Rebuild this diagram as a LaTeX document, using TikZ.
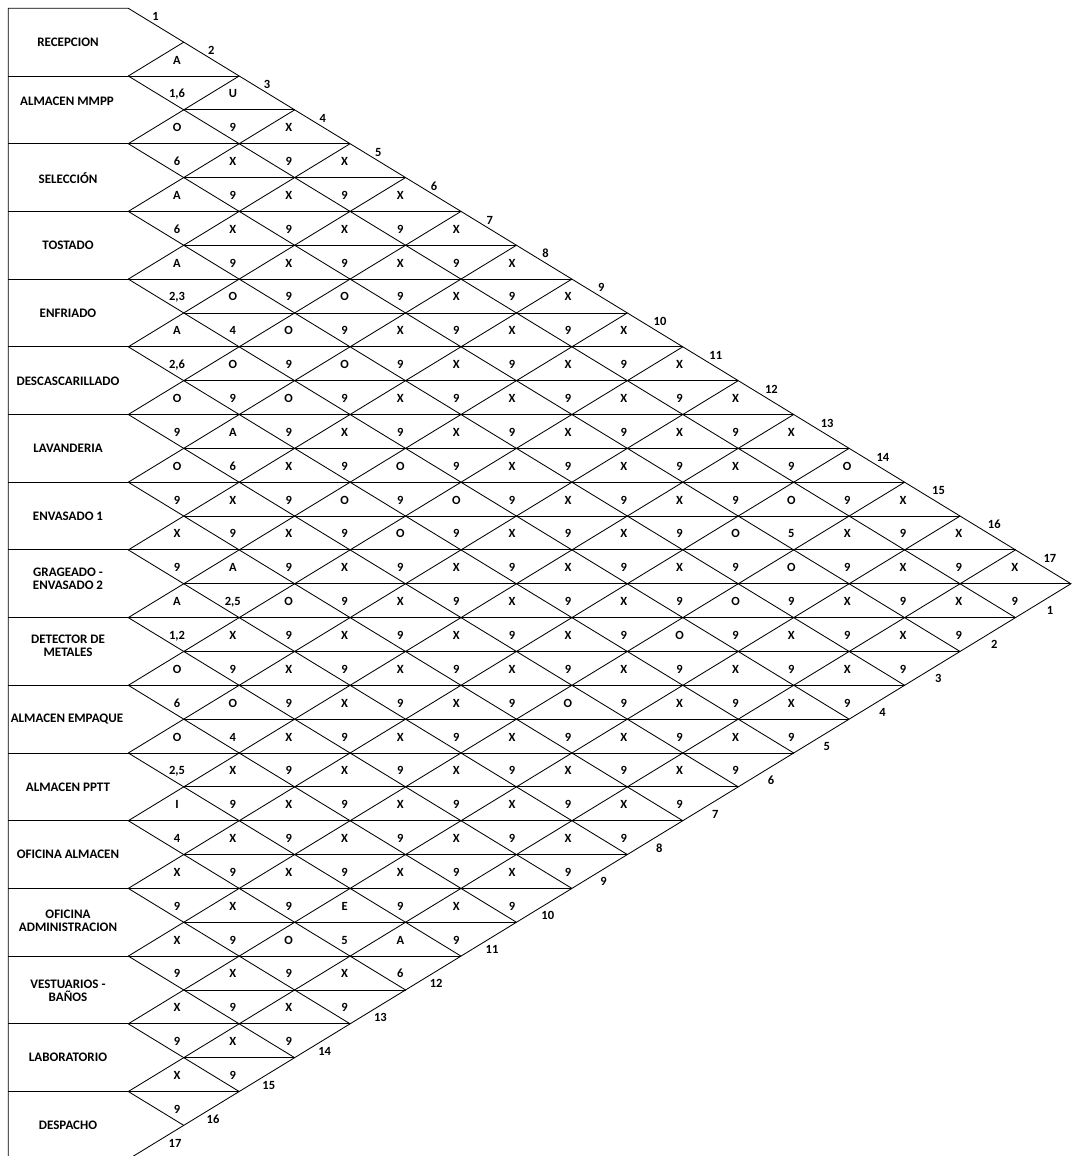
\documentclass[tikz,border=0pt]{standalone}
\usepackage{fontspec}
\setmainfont{Carlito}
\newcommand\cellrow[2]{\foreach \t [count=\m] in {#2}{\node[cell] (c#1-\m) at ({177+55.85*(\m-1)},{26.15+33.85*#1}) {\t};}}
\begin{document}
\begin{tikzpicture}[x=1pt,y=-1pt,line width=0.85pt,
  txt/.style={font=\fontsize{12.5}{12.5}\selectfont\bfseries,inner sep=0pt},
  cell/.style={txt,text height=8pt,text depth=0pt},
  edgenum/.style={txt,text height=8pt,text depth=0pt},
  dept/.style={inner sep=0pt,font=\fontsize{13}{12.5}\selectfont\bfseries,align=center}]
\useasboundingbox (0,0) rectangle (1071,1156);
\def\xo{128.3}\def\yo{8.3}\def\dxx{55.45}\def\dyy{33.85}
% outer frame
\draw (8.3,1159.2) -- (8.3,\yo) -- (\xo,\yo) -- ({\xo+17*\dxx},{\yo+17*\dyy}) -- (\xo,{\yo+34*\dyy}) -- (8.3,{\yo+34*\dyy});
% diagonals
\foreach \k in {1,...,16}{
  \draw (\xo,{\yo+2*\k*\dyy}) -- ({\xo+\dxx*(17-\k)},{\yo+(17+\k)*\dyy});
  \draw (\xo,{\yo+2*\k*\dyy}) -- ({\xo+\dxx*\k},{\yo+\k*\dyy});
}
% horizontals
\foreach \b in {2,...,32}{
  \pgfmathsetmacro\xr{\xo+\dxx*min(\b,34-\b)}
  \pgfmathsetmacro\xl{isodd(\b) ? \xo+\dxx : 8.3}
  \draw (\xl,{\yo+\b*\dyy}) -- (\xr,{\yo+\b*\dyy});
}
% department names
\node[dept] (d1) at (68,42.5) {RECEPCION};
\node[dept] (d2) at (67,101) {ALMACEN MMPP};
\node[dept] (d3) at (68,178) {SELECCIÓN};
\node[dept] (d4) at (68,245) {TOSTADO};
\node[dept] (d5) at (68,313) {ENFRIADO};
\node[dept] (d6) at (68,381) {DESCASCARILLADO};
\node[dept] (d7) at (68,448) {LAVANDERIA};
\node[dept] (d8) at (68,516) {ENVASADO 1};
\node[dept] (d9) at (68,579) {GRAGEADO -\\ENVASADO 2};
\node[dept] (d10) at (68,646) {DETECTOR DE\\METALES};
\node[dept] (d11) at (67,719) {ALMACEN EMPAQUE};
\node[dept] (d12) at (68,787) {ALMACEN PPTT};
\node[dept] (d13) at (68,854.5) {OFICINA ALMACEN};
\node[dept] (d14) at (68,921) {OFICINA\\ADMINISTRACION};
\node[dept] (d15) at (68,991) {VESTUARIOS -\\BAÑOS};
\node[dept] (d16) at (68,1057.5) {LABORATORIO};
\node[dept] (d17) at (68,1125) {DESPACHO};
% cell labels by strip
\cellrow{1}{A}
\cellrow{2}{{1,6},U}
\cellrow{3}{O,9,X}
\cellrow{4}{6,X,9,X}
\cellrow{5}{A,9,X,9,X}
\cellrow{6}{6,X,9,X,9,X}
\cellrow{7}{A,9,X,9,X,9,X}
\cellrow{8}{{2,3},O,9,O,9,X,9,X}
\cellrow{9}{A,4,O,9,X,9,X,9,X}
\cellrow{10}{{2,6},O,9,O,9,X,9,X,9,X}
\cellrow{11}{O,9,O,9,X,9,X,9,X,9,X}
\cellrow{12}{9,A,9,X,9,X,9,X,9,X,9,X}
\cellrow{13}{O,6,X,9,O,9,X,9,X,9,X,9,O}
\cellrow{14}{9,X,9,O,9,O,9,X,9,X,9,O,9,X}
\cellrow{15}{X,9,X,9,O,9,X,9,X,9,O,5,X,9,X}
\cellrow{16}{9,A,9,X,9,X,9,X,9,X,9,O,9,X,9,X}
\cellrow{17}{A,{2,5},O,9,X,9,X,9,X,9,O,9,X,9,X,9}
\cellrow{18}{{1,2},X,9,X,9,X,9,X,9,O,9,X,9,X,9}
\cellrow{19}{O,9,X,9,X,9,X,9,X,9,X,9,X,9}
\cellrow{20}{6,O,9,X,9,X,9,O,9,X,9,X,9}
\cellrow{21}{O,4,X,9,X,9,X,9,X,9,X,9}
\cellrow{22}{{2,5},X,9,X,9,X,9,X,9,X,9}
\cellrow{23}{I,9,X,9,X,9,X,9,X,9}
\cellrow{24}{4,X,9,X,9,X,9,X,9}
\cellrow{25}{X,9,X,9,X,9,X,9}
\cellrow{26}{9,X,9,E,9,X,9}
\cellrow{27}{X,9,O,5,A,9}
\cellrow{28}{9,X,9,X,6}
\cellrow{29}{X,9,X,9}
\cellrow{30}{9,X,9}
\cellrow{31}{X,9}
\cellrow{32}{9}
% edge numbers
\foreach \n in {1,...,17}{\node[edgenum,anchor=west] (t\n) at ({152+55.7*(\n-1)},{17+33.85*(\n-1)}) {\n};}
\foreach \n in {1,...,16}{\node[edgenum] (b\n) at ({1050-55.8*(\n-1)},{610.7+33.9*(\n-1)}) {\n};}
\node[edgenum] (b17) at (175,1143) {17};
\end{tikzpicture}
\end{document}
